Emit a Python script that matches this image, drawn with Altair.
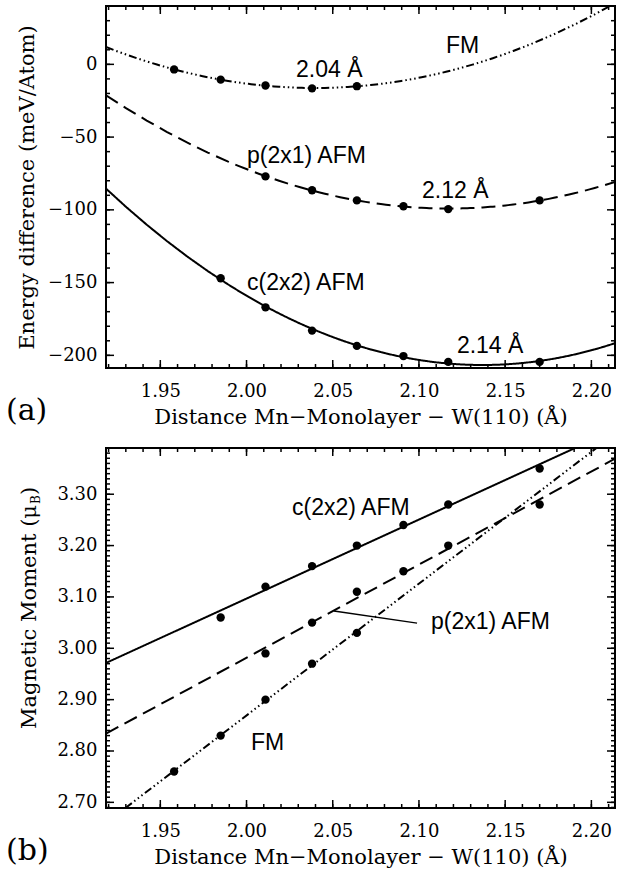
import altair as alt
import pandas as pd

# ---------------- data ----------------
dist = [1.958, 1.985, 2.011, 2.038, 2.064, 2.091, 2.117, 2.170]
series_names = ["FM", "p(2x1) AFM", "c(2x2) AFM"]

# (a) energy difference, meV/Atom
energy_fm = [-3.5, -10.5, -14.5, -16.5, -15.0]
energy_p2x1 = [-77.0, -86.5, -93.5, -97.5, -99.5, -93.5]
energy_c2x2 = [-147.0, -167.0, -183.0, -193.5, -200.5, -204.5, -204.5]

# (b) magnetic moment, mu_B
moment_fm = [2.76, 2.83, 2.90, 2.97, 3.03]
moment_p2x1 = [2.99, 3.05, 3.11, 3.15, 3.20, 3.28]
moment_c2x2 = [3.06, 3.12, 3.16, 3.20, 3.24, 3.28, 3.35]

x_major = [1.95, 2.00, 2.05, 2.10, 2.15, 2.20]
x_minor = [round(1.92 + 0.01 * k, 2) for k in range(30)]
energy_major = [-200, -150, -100, -50, 0]
energy_minor = [-200 + 10 * k for k in range(24)]
moment_major = [2.70, 2.80, 2.90, 3.00, 3.10, 3.20, 3.30]
moment_minor = [round(2.69 + 0.01 * k, 2) for k in range(70)]

XDOM = [1.9185, 2.2137]
W = 509


def frame(xs_fm, ys_fm, xs_p, ys_p, xs_c, ys_c):
    rows = []
    for s, xs, ys in [("FM", xs_fm, ys_fm), ("p(2x1) AFM", xs_p, ys_p), ("c(2x2) AFM", xs_c, ys_c)]:
        for a, b in zip(xs, ys):
            rows.append({"s": s, "d": a, "v": b})
    return pd.DataFrame(rows)


df_a = frame(dist[0:5], energy_fm, dist[2:8], energy_p2x1, dist[1:8], energy_c2x2)
df_b = frame(dist[0:5], moment_fm, dist[2:8], moment_p2x1, dist[1:8], moment_c2x2)

DASHES = [[8, 3, 1.5, 3, 1.5, 3, 1.5, 3], [14, 7], [1, 0]]
XTITLE = "Distance Mn\u2212Monolayer \u2212 W(110) (\u00c5)"


def tick_layers(xs, ys, ymajor, yminor, h):
    layers = []
    for vals, size in [(x_major, 8), (x_minor, 4)]:
        tdf = pd.DataFrame({"t": vals})
        for y0, y1 in [(h, h - size), (0, size)]:
            layers.append(alt.Chart(tdf).mark_rule(color="black", strokeWidth=1.5).encode(
                x=alt.X("t:Q", scale=xs, axis=None), y=alt.value(y0), y2=alt.value(y1)))
    for vals, size in [(ymajor, 8), (yminor, 4)]:
        tdf = pd.DataFrame({"t": vals})
        for x0, x1 in [(0, size), (W, W - size)]:
            layers.append(alt.Chart(tdf).mark_rule(color="black", strokeWidth=1.5).encode(
                y=alt.Y("t:Q", scale=ys, axis=None), x=alt.value(x0), x2=alt.value(x1)))
    return layers


def panel(df, ydom, ymajor, yminor, yfmt, ytitle, h, method, order, ann, letter):
    xs = alt.Scale(domain=XDOM, nice=False, zero=False)
    ys = alt.Scale(domain=ydom, nice=False, zero=False)
    yax_kwargs = dict(orient="left", values=ymajor, format=yfmt, ticks=False, tickSize=0,
                      domain=False, grid=False, labelPadding=9)
    if ytitle:
        yax = alt.Axis(title=ytitle, titlePadding=10, **yax_kwargs)
    else:
        yax = alt.Axis(title=None, **yax_kwargs)
    points = alt.Chart(df).mark_circle(size=70, color="black", opacity=1).encode(
        x=alt.X("d:Q", scale=xs,
                axis=alt.Axis(orient="bottom", values=x_major, format=".2f", ticks=False,
                              tickSize=0, domain=False, grid=False, labelPadding=14,
                              title=XTITLE, titlePadding=6)),
        y=alt.Y("v:Q", scale=ys, axis=yax),
    )
    reg_kwargs = dict(groupby=["s"], method=method, extent=XDOM)
    if method == "poly":
        reg_kwargs["order"] = order
    lines = alt.Chart(df).transform_regression("d", "v", **reg_kwargs).mark_line(
        clip=True, color="black", strokeWidth=2
    ).encode(
        x=alt.X("d:Q", scale=xs, axis=None),
        y=alt.Y("v:Q", scale=ys, axis=None),
        strokeDash=alt.StrokeDash("s:N", scale=alt.Scale(domain=series_names, range=DASHES), legend=None),
    )
    ann_df = pd.DataFrame(ann)
    texts = alt.Chart(ann_df).mark_text(
        align="left", baseline="middle", font="Liberation Sans", fontSize=23, color="black"
    ).encode(
        x=alt.X("d:Q", scale=xs, axis=None),
        y=alt.Y("v:Q", scale=ys, axis=None),
        text="t:N",
    )
    lab = alt.Chart(pd.DataFrame({"t": [letter]})).mark_text(
        align="left", baseline="middle", font="DejaVu Serif", fontSize=30, color="black"
    ).encode(x=alt.value(-100), y=alt.value(h + 43), text="t:N")
    layers = [points, lines, texts, lab] + tick_layers(xs, ys, ymajor, yminor, h)
    return layers, xs, ys


ann_a = {"t": ["FM", "2.04 \u00c5", "p(2x1) AFM", "2.12 \u00c5", "c(2x2) AFM", "2.14 \u00c5"],
         "d": [2.1157, 2.0287, 2.0003, 2.1018, 2.0003, 2.1220],
         "v": [12.6, -3.8, -63.1, -87.1, -150.1, -193.6]}
ann_b = {"t": ["c(2x2) AFM", "p(2x1) AFM", "FM"],
         "d": [2.0264, 2.1070, 2.0026],
         "v": [3.274, 3.052, 2.816]}

HA, HB = 362, 360
layers_a, xa, ya = panel(df_a, [-208.7, 40.1], energy_major, energy_minor, "d",
                         "Energy difference (meV/Atom)", HA, "poly", 2, ann_a, "(a)")
layers_b, xb, yb = panel(df_b, [2.689, 3.390], moment_major, moment_minor, ".2f",
                         None, HB, "linear", 1, ann_b, "(b)")

# leader line for p(2x1) AFM label in (b)
leader = alt.Chart(pd.DataFrame({"d": [2.0507], "v": [3.0724], "d2": [2.0989], "v2": [3.049]})).mark_rule(
    color="black", strokeWidth=1.5
).encode(
    x=alt.X("d:Q", scale=xb, axis=None), y=alt.Y("v:Q", scale=yb, axis=None),
    x2="d2:Q", y2="v2:Q",
)
# y title for (b) with subscript
ytitle_b = [
    alt.Chart(pd.DataFrame({"t": ["Magnetic Moment (\u03bc"]})).mark_text(
        align="right", baseline="middle", angle=270, font="DejaVu Serif", fontSize=21, color="black"
    ).encode(x=alt.value(-76), y=alt.value(57), text="t:N"),
    alt.Chart(pd.DataFrame({"t": ["B"]})).mark_text(
        align="left", baseline="middle", angle=270, font="DejaVu Serif", fontSize=12, color="black"
    ).encode(x=alt.value(-70), y=alt.value(56), text="t:N"),
    alt.Chart(pd.DataFrame({"t": [")"]})).mark_text(
        align="left", baseline="middle", angle=270, font="DejaVu Serif", fontSize=21, color="black"
    ).encode(x=alt.value(-76), y=alt.value(47), text="t:N"),
]

top = alt.layer(*layers_a).resolve_axis(x="independent", y="independent").properties(width=W, height=HA)
bottom = alt.layer(*(layers_b + [leader] + ytitle_b)).resolve_axis(
    x="independent", y="independent").properties(width=W, height=HB)

chart = alt.vconcat(top, bottom, spacing=18).properties(
    padding={"left": 5, "top": 4, "right": 1, "bottom": 2}
).configure_view(stroke="black", strokeWidth=2).configure_axis(
    labelFont="DejaVu Serif", labelFontSize=18, labelColor="black",
    titleFont="DejaVu Serif", titleFontSize=21, titleFontWeight="normal", titleColor="black",
)

chart.save("out.html", embed_options={"renderer": "svg", "actions": False})
